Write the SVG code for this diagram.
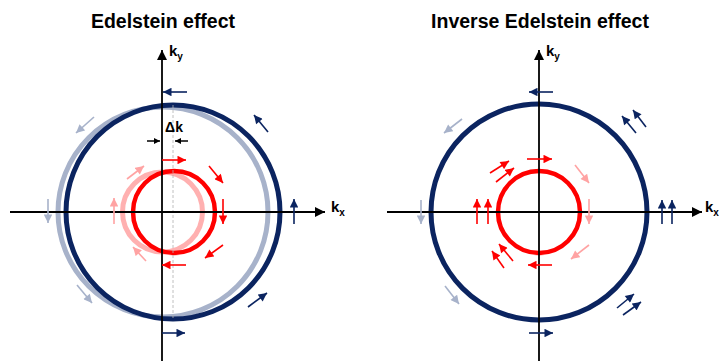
<svg xmlns="http://www.w3.org/2000/svg" width="719" height="361" viewBox="0 0 719 361">
<style>
.title{font-family:"Liberation Sans",Arial,sans-serif;font-weight:bold;font-size:19.5px;fill:#000;text-anchor:middle}
.lbl{font-family:"Liberation Sans",Arial,sans-serif;font-weight:bold;font-size:15px;fill:#000}
.sub{font-size:10px}
.axis{stroke:#000;stroke-width:1.8;fill:none}
.navy{stroke:#0b2460;stroke-width:1.6;fill:none;marker-end:url(#mN)}
.gray{stroke:#a7b2ca;stroke-width:1.6;fill:none;marker-end:url(#mG)}
.red{stroke:#ff0000;stroke-width:1.6;fill:none;marker-end:url(#mR)}
.pink{stroke:#ffa3a3;stroke-width:1.6;fill:none;marker-end:url(#mP)}
.blk{stroke:#000;stroke-width:1.5;fill:none;marker-end:url(#mB)}
</style>
<defs>
<marker id="mA" viewBox="0 0 10 10" refX="10" refY="5" markerWidth="11" markerHeight="10" markerUnits="userSpaceOnUse" orient="auto"><path d="M0,0L10,5L0,10z" fill="#000"/></marker>
<marker id="mN" viewBox="0 0 10 10" refX="10" refY="5" markerWidth="9.5" markerHeight="8.5" markerUnits="userSpaceOnUse" orient="auto"><path d="M0,0L10,5L0,10z" fill="#0b2460"/></marker>
<marker id="mG" viewBox="0 0 10 10" refX="10" refY="5" markerWidth="9.5" markerHeight="8.5" markerUnits="userSpaceOnUse" orient="auto"><path d="M0,0L10,5L0,10z" fill="#a7b2ca"/></marker>
<marker id="mR" viewBox="0 0 10 10" refX="10" refY="5" markerWidth="9.5" markerHeight="8.5" markerUnits="userSpaceOnUse" orient="auto"><path d="M0,0L10,5L0,10z" fill="#ff0000"/></marker>
<marker id="mP" viewBox="0 0 10 10" refX="10" refY="5" markerWidth="9.5" markerHeight="8.5" markerUnits="userSpaceOnUse" orient="auto"><path d="M0,0L10,5L0,10z" fill="#ffa3a3"/></marker>
<marker id="mB" viewBox="0 0 10 10" refX="10" refY="5" markerWidth="7" markerHeight="6" markerUnits="userSpaceOnUse" orient="auto"><path d="M0,0L10,5L0,10z" fill="#000"/></marker>
</defs>
<rect width="719" height="361" fill="#fff"/>

<g id="edelstein">
  <text class="title" x="163" y="28">Edelstein effect</text>
  <g id="left-rings">
    <circle cx="163" cy="212" r="105" fill="none" stroke="#a7b2ca" stroke-width="5"/>
    <circle cx="173" cy="212" r="107" fill="none" stroke="#0b2460" stroke-width="5"/>
    <circle cx="162.5" cy="212" r="40" fill="none" stroke="#ffb0b0" stroke-width="5"/>
    <circle cx="174" cy="212" r="41" fill="none" stroke="#ff0000" stroke-width="4.5"/>
  </g>
  <line x1="173" y1="105" x2="173" y2="318" stroke="#b0b0b0" stroke-width="0.8" stroke-dasharray="3,2"/>
  <g id="left-axes">
    <line class="axis" x1="162" y1="361" x2="162" y2="50" marker-end="url(#mA)"/>
    <line class="axis" x1="10" y1="212" x2="325" y2="212" marker-end="url(#mA)"/>
    <text class="lbl" x="169" y="56">k<tspan class="sub" dy="4">y</tspan></text>
    <text class="lbl" x="331" y="212">k<tspan class="sub" dy="4">x</tspan></text>
  </g>
  <g id="delta-k">
    <text class="lbl" x="174" y="132" text-anchor="middle" style="font-size:14px">Δk</text>
    <line class="blk" x1="147" y1="141" x2="160" y2="141"/>
    <line class="blk" x1="188" y1="141" x2="175" y2="141"/>
  </g>
  <g id="left-spins">
    <line class="navy" x1="187" y1="92" x2="163" y2="92"/>
    <line class="navy" x1="268" y1="132" x2="254" y2="115"/>
    <line class="navy" x1="294" y1="224" x2="294" y2="199"/>
    <line class="navy" x1="248" y1="307" x2="267" y2="293"/>
    <line class="navy" x1="162" y1="333" x2="185" y2="333"/>
    <line class="gray" x1="94" y1="117" x2="76" y2="133"/>
    <line class="gray" x1="48" y1="199" x2="48" y2="223"/>
    <line class="gray" x1="77" y1="285" x2="92" y2="303"/>
    <line class="red" x1="162" y1="160" x2="186" y2="160"/>
    <line class="red" x1="209" y1="166" x2="223" y2="183"/>
    <line class="red" x1="223" y1="199" x2="223" y2="224"/>
    <line class="red" x1="223" y1="245" x2="205" y2="258"/>
    <line class="red" x1="186" y1="265" x2="162" y2="265"/>
    <line class="pink" x1="127" y1="179" x2="144" y2="166"/>
    <line class="pink" x1="114" y1="224" x2="114" y2="198"/>
    <line class="pink" x1="146" y1="261" x2="133" y2="247"/>
  </g>
</g>

<g id="inverse-edelstein">
  <text class="title" x="540" y="28">Inverse Edelstein effect</text>
  <g id="right-rings">
    <circle cx="539" cy="212" r="108" fill="none" stroke="#0b2460" stroke-width="5"/>
    <circle cx="539" cy="212" r="41" fill="none" stroke="#ff0000" stroke-width="4.5"/>
  </g>
  <g id="right-axes">
    <line class="axis" x1="539" y1="361" x2="539" y2="50" marker-end="url(#mA)"/>
    <line class="axis" x1="387" y1="212" x2="702" y2="212" marker-end="url(#mA)"/>
    <text class="lbl" x="546" y="56">k<tspan class="sub" dy="4">y</tspan></text>
    <text class="lbl" x="705" y="212">k<tspan class="sub" dy="4">x</tspan></text>
  </g>
  <g id="right-spins">
    <line class="navy" x1="553" y1="92" x2="529" y2="92"/>
    <line class="navy" x1="636" y1="133" x2="622" y2="116"/>
    <line class="navy" x1="646" y1="127" x2="633" y2="110"/>
    <line class="navy" x1="662" y1="224" x2="662" y2="200"/>
    <line class="navy" x1="672" y1="224" x2="672" y2="200"/>
    <line class="navy" x1="617" y1="308" x2="634" y2="294"/>
    <line class="navy" x1="623" y1="315" x2="641" y2="302"/>
    <line class="navy" x1="529" y1="333" x2="553" y2="333"/>
    <line class="gray" x1="462" y1="119" x2="444" y2="133"/>
    <line class="gray" x1="421" y1="200" x2="421" y2="224"/>
    <line class="gray" x1="445" y1="286" x2="459" y2="304"/>
    <line class="red" x1="527" y1="159" x2="552" y2="159"/>
    <line class="red" x1="490" y1="173" x2="509" y2="161"/>
    <line class="red" x1="496" y1="182" x2="514" y2="168"/>
    <line class="red" x1="477" y1="224" x2="477" y2="199"/>
    <line class="red" x1="488" y1="224" x2="488" y2="199"/>
    <line class="red" x1="504" y1="268" x2="492" y2="251"/>
    <line class="red" x1="513" y1="261" x2="499" y2="244"/>
    <line class="red" x1="552" y1="265" x2="528" y2="265"/>
    <line class="pink" x1="575" y1="165" x2="589" y2="183"/>
    <line class="pink" x1="589" y1="199" x2="589" y2="224"/>
    <line class="pink" x1="589" y1="245" x2="571" y2="259"/>
  </g>
</g>
</svg>
